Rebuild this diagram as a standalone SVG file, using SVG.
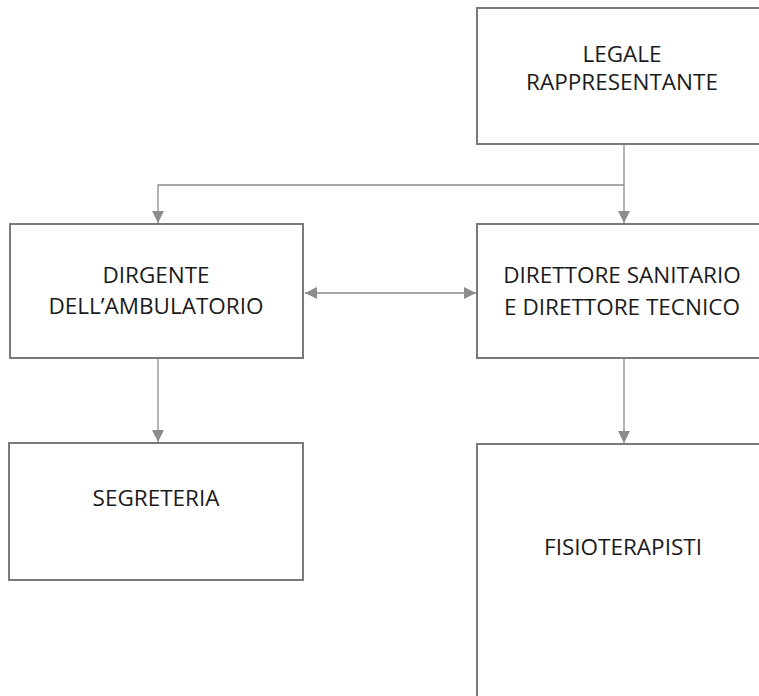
<svg xmlns="http://www.w3.org/2000/svg" width="759" height="696" viewBox="0 0 759 696">
<defs>
<style>
.box{fill:#fff;stroke:#7a7a7a;stroke-width:2}
.lbl{font-family:"Open Sans","Liberation Sans",sans-serif;font-size:22.5px;fill:#1a1a1a;text-anchor:middle}
.con{fill:none;stroke:#8c8c8c;stroke-width:1.3}
</style>
<marker id="ah" viewBox="0 0 12 12" refX="12" refY="6" markerWidth="12" markerHeight="12" markerUnits="userSpaceOnUse" orient="auto-start-reverse">
<path d="M0,0 L12,6 L0,12 Z" fill="#8c8c8c"/>
</marker>
</defs>
<rect width="759" height="696" fill="#fff"/>
<g id="legale">
<rect class="box" x="477" y="8" width="300" height="136"/>
<text class="lbl" x="622" y="62">LEGALE</text>
<text class="lbl" x="622" y="90">RAPPRESENTANTE</text>
</g>
<g id="dirgente">
<rect class="box" x="10" y="224" width="293" height="134"/>
<text class="lbl" x="156" y="283">DIRGENTE</text>
<text class="lbl" x="156" y="314">DELL’AMBULATORIO</text>
</g>
<g id="direttore">
<rect class="box" x="477" y="224" width="300" height="134"/>
<text class="lbl" x="622" y="283">DIRETTORE SANITARIO</text>
<text class="lbl" x="622" y="315">E DIRETTORE TECNICO</text>
</g>
<g id="segreteria">
<rect class="box" x="9" y="443" width="294" height="137"/>
<text class="lbl" x="156" y="506">SEGRETERIA</text>
</g>
<g id="fisioterapisti">
<rect class="box" x="477" y="444" width="300" height="280"/>
<text class="lbl" x="623" y="555">FISIOTERAPISTI</text>
</g>
<g id="connectors">
<path class="con" d="M624,145 V223" marker-end="url(#ah)"/>
<path class="con" d="M624,185 H158 V223" marker-end="url(#ah)"/>
<path class="con" d="M305,293 H476" marker-start="url(#ah)" marker-end="url(#ah)"/>
<path class="con" d="M158,359 V442" marker-end="url(#ah)"/>
<path class="con" d="M624,359 V443" marker-end="url(#ah)"/>
</g>
</svg>
